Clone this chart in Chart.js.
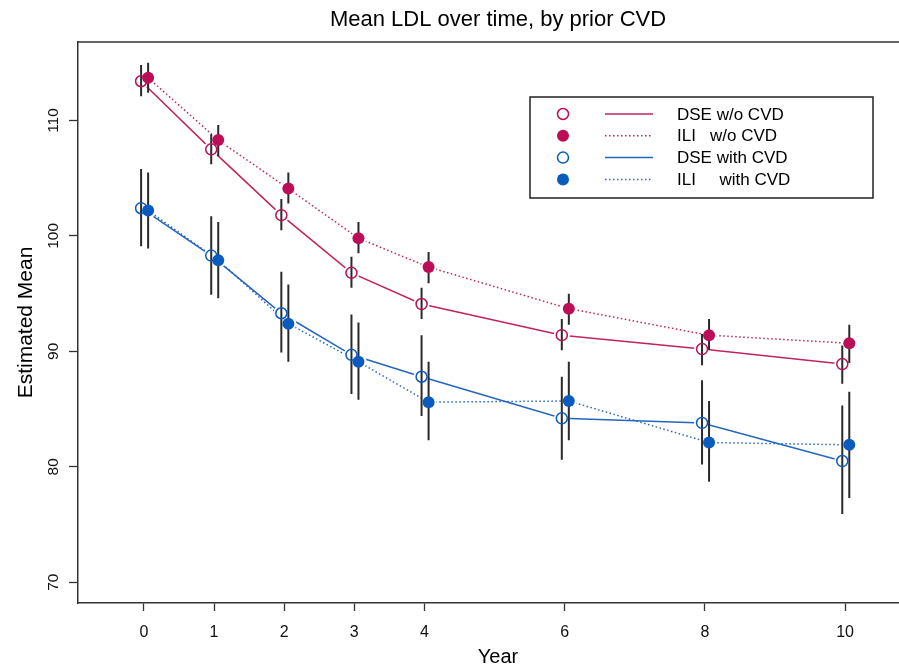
<!DOCTYPE html>
<html><head><meta charset="utf-8">
<script src="https://cdn.jsdelivr.net/npm/chart.js@4/dist/chart.umd.min.js"></script>
<style>html,body{margin:0;padding:0;overflow:hidden;background:#fff}</style>
</head><body>
<canvas id="c" width="996" height="669"></canvas>
<script>
// ---- data ----
const years = [0, 1, 2, 3, 4, 6, 8, 10];
const xTickValues = [0, 1, 2, 3, 4, 6, 8, 10];
const yTickValues = [70, 80, 90, 100, 110];

const dseNoCvd   = [113.4, 107.5, 101.8, 96.8, 94.1, 91.4, 90.2, 88.9];
const dseNoCvdLo = [112.1, 106.2, 100.5, 95.5, 92.8, 90.1, 88.8, 87.2];
const dseNoCvdHi = [114.8, 108.8, 103.2, 98.2, 95.5, 92.8, 91.5, 90.5];

const iliNoCvd   = [113.7, 108.3, 104.1, 99.8, 97.3, 93.7, 91.4, 90.7];
const iliNoCvdLo = [112.4, 106.9, 102.8, 98.5, 95.9, 92.3, 90.1, 89.0];
const iliNoCvdHi = [115.0, 109.6, 105.5, 101.2, 98.6, 95.0, 92.8, 92.3];

const dseCvd   = [102.4, 98.3, 93.3, 89.7, 87.8, 84.2, 83.8, 80.5];
const dseCvdLo = [99.1, 94.9, 89.9, 86.3, 84.4, 80.6, 80.2, 75.9];
const dseCvdHi = [105.8, 101.7, 96.9, 93.2, 91.4, 87.8, 87.5, 85.3];

const iliCvd   = [102.2, 97.9, 92.4, 89.1, 85.6, 85.7, 82.1, 81.9];
const iliCvdLo = [98.9, 94.6, 89.1, 85.8, 82.3, 82.3, 78.7, 77.3];
const iliCvdHi = [105.5, 101.2, 95.8, 92.5, 89.1, 89.1, 85.7, 86.5];

const seriesLabels = ['DSE w/o CVD', 'ILI   w/o CVD', 'DSE with CVD', 'ILI     with CVD'];

// ---- styling ----
const RED = '#BC0E57', RED_LINE = '#C2235F';
const BLUE = '#0A5BBE', BLUE_LINE = '#2466BE';
const BAR = '#2a2a2a';
const FONT = "'Liberation Sans', Arial, Helvetica, sans-serif";
const DODGE_DSE = -0.04, DODGE_ILI = 0.06;

function pts(vals, dx) { return years.map((x, i) => ({ x: x + dx, y: vals[i] })); }
function errBars(lo, hi, dx) {
  const out = [];
  years.forEach((x, i) => { out.push({ x: x + dx, y: lo[i] }, { x: x + dx, y: hi[i] }, { x: x + dx, y: null }); });
  return out;
}

const series = [
  { label: seriesLabels[0], v: dseNoCvd, lo: dseNoCvdLo, hi: dseNoCvdHi, dx: DODGE_DSE, color: RED, line: RED_LINE, filled: false, dash: [] },
  { label: seriesLabels[1], v: iliNoCvd, lo: iliNoCvdLo, hi: iliNoCvdHi, dx: DODGE_ILI, color: RED, line: RED_LINE, filled: true, dash: [1.5, 2.5] },
  { label: seriesLabels[2], v: dseCvd, lo: dseCvdLo, hi: dseCvdHi, dx: DODGE_DSE, color: BLUE, line: BLUE_LINE, filled: false, dash: [] },
  { label: seriesLabels[3], v: iliCvd, lo: iliCvdLo, hi: iliCvdHi, dx: DODGE_ILI, color: BLUE, line: BLUE_LINE, filled: true, dash: [1.5, 2.5] },
];

const datasets = [];
series.forEach(s => {
  datasets.push({ kind: 'line', data: pts(s.v, s.dx), borderColor: s.line, borderWidth: 1.5, borderDash: s.dash,
    pointRadius: 0, fill: false, tension: 0, order: 30 });
  datasets.push({ kind: 'halo', data: pts(s.v, s.dx), showLine: false, pointRadius: 8, pointBorderWidth: 0,
    pointBackgroundColor: '#ffffff', pointBorderColor: '#ffffff', order: 20 });
  datasets.push({ kind: 'bar', data: errBars(s.lo, s.hi, s.dx), borderColor: BAR, borderWidth: 2, pointRadius: 0,
    spanGaps: false, fill: false, order: 10 });
  datasets.push({ kind: 'pt', label: s.label, data: pts(s.v, s.dx), showLine: false,
    pointRadius: s.filled ? 6 : 5.5, pointBorderWidth: s.filled ? 0 : 1.5,
    pointBackgroundColor: s.filled ? s.color : 'rgba(0,0,0,0)', pointBorderColor: s.color,
    borderColor: s.line, borderDash: s.dash, order: 0 });
});

const framePlugin = {
  id: 'frame',
  afterDraw(chart) {
    const ctx = chart.ctx, a = chart.chartArea;
    ctx.save();
    ctx.strokeStyle = '#333'; ctx.lineWidth = 1.5;
    ctx.beginPath(); ctx.moveTo(a.left, a.top); ctx.lineTo(a.right, a.top); ctx.lineTo(a.right, a.bottom); ctx.stroke();
    const bx = 530, by = 97, bw = 343, bh = 101;
    ctx.fillStyle = '#fff'; ctx.fillRect(bx, by, bw, bh);
    ctx.strokeStyle = '#222'; ctx.lineWidth = 1.5; ctx.strokeRect(bx, by, bw, bh);
    const marks = chart.data.datasets.filter(d => d.kind === 'pt');
    marks.forEach((d, i) => {
      const y = by + 17 + i * 21.8;
      ctx.beginPath(); ctx.arc(563, y, d.pointRadius, 0, Math.PI * 2);
      if (d.pointBorderWidth === 0) { ctx.fillStyle = d.pointBackgroundColor; ctx.fill(); }
      else { ctx.strokeStyle = d.pointBorderColor; ctx.lineWidth = d.pointBorderWidth; ctx.stroke(); }
      ctx.beginPath(); ctx.strokeStyle = d.borderColor; ctx.lineWidth = 1.5; ctx.setLineDash(d.borderDash);
      ctx.moveTo(605, y); ctx.lineTo(653, y); ctx.stroke(); ctx.setLineDash([]);
      ctx.fillStyle = '#000'; ctx.font = '17px ' + FONT; ctx.textBaseline = 'middle'; ctx.textAlign = 'left';
      ctx.fillText(d.label, 677, y + 1);
    });
    ctx.restore();
  }
};

new Chart(document.getElementById('c'), {
  type: 'line',
  data: { datasets },
  plugins: [framePlugin],
  options: {
    responsive: false, animation: false, events: [],
    layout: { padding: 0 },
    plugins: {
      legend: { display: false }, tooltip: { enabled: false },
      title: { display: true, text: 'Mean LDL over time, by prior CVD', color: '#000',
        font: { family: FONT, size: 22, weight: 'normal' }, padding: { top: 7, bottom: 8.6 } }
    },
    scales: {
      x: {
        type: 'linear', min: -0.94, max: 11.04,
        afterBuildTicks: sc => { sc.ticks = xTickValues.map(v => ({ value: v })); },
        afterFit: sc => { sc.height = 66; },
        grid: { drawOnChartArea: false, drawTicks: true, tickLength: 8, tickColor: '#333', tickWidth: 1.3 },
        border: { display: true, color: '#333', width: 1.5 },
        ticks: { color: '#111', font: { family: FONT, size: 16 }, padding: 12, maxRotation: 0, autoSkip: false },
        title: { display: true, text: 'Year', color: '#000', font: { family: FONT, size: 20 }, padding: { top: 0, bottom: 0 } }
      },
      y: {
        type: 'linear', min: 68.2, max: 116.8,
        afterBuildTicks: sc => { sc.ticks = yTickValues.map(v => ({ value: v })); },
        afterFit: sc => { sc.width = 78; },
        grid: { drawOnChartArea: false, drawTicks: true, tickLength: 9, tickColor: '#333', tickWidth: 1.3 },
        border: { display: true, color: '#333', width: 1.5 },
        ticks: { color: '#111', font: { family: FONT, size: 15.5 }, padding: 2, minRotation: 90, maxRotation: 90,
          crossAlign: 'center', autoSkip: false },
        title: { display: true, text: 'Estimated Mean', color: '#000', font: { family: FONT, size: 21 }, padding: { top: 14 } }
      },
      yRight: {
        type: 'linear', position: 'right', display: true, min: 0, max: 1,
        afterFit: sc => { sc.width = 78; },
        grid: { display: false, drawTicks: false }, border: { display: false },
        ticks: { display: false }
      }
    }
  }
});
</script>
</body></html>
